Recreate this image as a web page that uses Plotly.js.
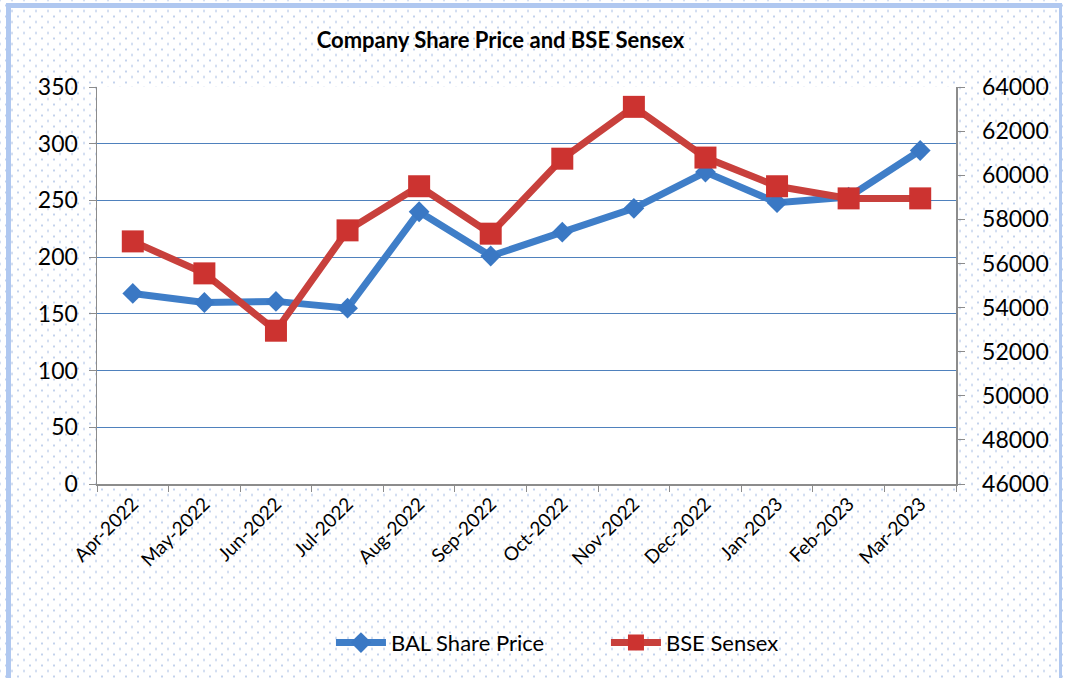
<!DOCTYPE html>
<html>
<head>
<meta charset="utf-8">
<script src="https://cdn.plot.ly/plotly-3.0.1.min.js"></script>
<style>
  html, body { margin:0; padding:0; }
  body {
    width:1065px; height:678px; overflow:hidden;
    background-color:#ffffff;
    background-image:
      radial-gradient(circle, #c3d2ec 0.9px, rgba(255,255,255,0) 1.3px),
      radial-gradient(circle, #c3d2ec 0.9px, rgba(255,255,255,0) 1.3px);
    background-size: 12px 11px, 12px 11px;
    background-position: 0 0, 6px 5.5px;
  }
  #frame {
    position:absolute; left:6px; top:3px; width:1056px; height:700px;
    border-left:5px solid #b0c8f0; border-top:5px solid #b0c8f0; border-right:3px solid #b0c8f0;
    box-sizing:border-box; pointer-events:none;
  }
  #chart { position:absolute; left:0; top:0; width:1065px; height:678px; }
</style>
</head>
<body>
<div id="frame"></div>
<div id="chart"></div>
<script>
const months = ["Apr-2022","May-2022","Jun-2022","Jul-2022","Aug-2022","Sep-2022","Oct-2022","Nov-2022","Dec-2022","Jan-2023","Feb-2023","Mar-2023"];
const balSharePrice = [168, 160, 161, 155, 240, 201, 222, 243, 275, 248, 253, 294];
const bseSensex = [57000, 55550, 52950, 57500, 59500, 57350, 60750, 63100, 60800, 59500, 58950, 58950];
const leftTicks = [0, 50, 100, 150, 200, 250, 300, 350];
const rightTicks = [46000, 48000, 50000, 52000, 54000, 56000, 58000, 60000, 62000, 64000];

const fontFam = "Lato, 'Open Sans', 'DejaVu Sans', sans-serif";

const traces = [
  {
    x: months, y: balSharePrice, name: "BAL Share Price", type: "scatter", mode: "lines+markers",
    line: { color: "#3f7ec8", width: 7 },
    marker: { symbol: "diamond", size: 16, color: "#3a78c4" },
    yaxis: "y"
  },
  {
    x: months, y: bseSensex, name: "BSE Sensex", type: "scatter", mode: "lines+markers",
    line: { color: "#c8403c", width: 7 },
    marker: { symbol: "square", size: 22, color: "#cc3330" },
    yaxis: "y2"
  }
];

const layout = {
  width: 1065, height: 678,
  margin: { l: 97, r: 109, t: 87, b: 194 },
  paper_bgcolor: "rgba(0,0,0,0)",
  plot_bgcolor: "#ffffff",
  font: { family: fontFam, color: "#000000", size: 17 },
  title: {
    text: "Company Share Price and BSE Sensex",
    font: { family: fontFam, size: 22, color: "#000000", weight: "bold" },
    x: 0.47, xanchor: "center", y: 0.94, yanchor: "middle"
  },
  showlegend: true,
  legend: {
    orientation: "h", x: 0.5925, xanchor: "center", y: -0.4, yanchor: "middle",
    font: { family: fontFam, size: 22, color: "#000000" },
    bgcolor: "rgba(0,0,0,0)", itemwidth: 50, tracegroupgap: 0,
    entrywidth: 210, entrywidthmode: "pixels"
  },
  xaxis: {
    type: "category", categoryorder: "array", categoryarray: months,
    range: [-0.5, 11.5], autorange: false,
    tickangle: -45, tickfont: { size: 19, family: fontFam, color: "#000" },
    showline: true, linecolor: "#8c8c8c", linewidth: 1.5,
    ticks: "outside", ticklen: 6, tickcolor: "#8c8c8c", tickson: "boundaries",
    showgrid: false, zeroline: false, fixedrange: true
  },
  yaxis: {
    range: [0, 350], tickmode: "array", tickvals: leftTicks, ticktext: leftTicks.map(String),
    showline: true, linecolor: "#8c8c8c", linewidth: 1.5,
    ticks: "outside", ticklen: 7, tickcolor: "#8c8c8c",
    showgrid: true, gridcolor: "#4f81bd", gridwidth: 1,
    zeroline: false, tickfont: { size: 23, family: fontFam, color: "#000" }, ticklabelstandoff: 6, fixedrange: true
  },
  yaxis2: {
    overlaying: "y", side: "right",
    range: [46000, 64000], tickmode: "array", tickvals: rightTicks, ticktext: rightTicks.map(String),
    showline: true, linecolor: "#8c8c8c", linewidth: 1.5,
    ticks: "outside", ticklen: 7, tickcolor: "#8c8c8c",
    showgrid: false, zeroline: false, tickfont: { size: 23, family: fontFam, color: "#000" }, ticklabelstandoff: 13, fixedrange: true
  },
  hovermode: false
};

Plotly.newPlot("chart", traces, layout, { displayModeBar: false, staticPlot: true });
</script>
</body>
</html>
